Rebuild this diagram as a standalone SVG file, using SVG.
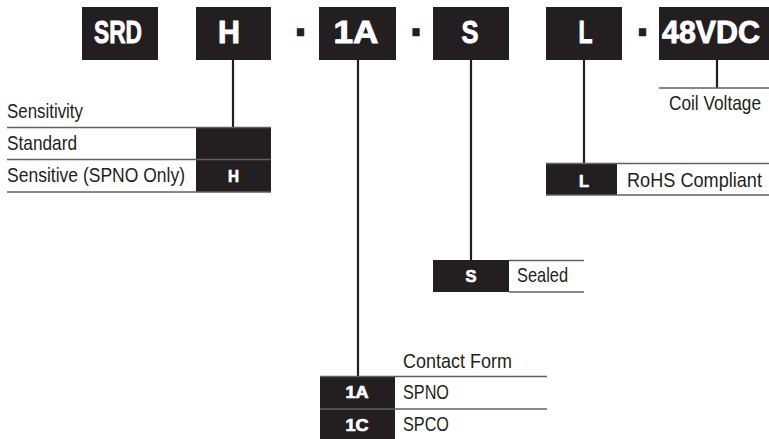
<svg xmlns="http://www.w3.org/2000/svg" width="769" height="439" viewBox="0 0 769 439">
<style>
.blk{fill:#231f20}
.big{font-family:"Liberation Sans",Arial,sans-serif;font-weight:bold;font-size:31px;fill:#fff;stroke:#fff;stroke-width:0.9;text-anchor:middle}
.sm{font-family:"Liberation Sans",Arial,sans-serif;font-weight:bold;font-size:17px;fill:#fff;stroke:#fff;stroke-width:0.7;text-anchor:middle}
.lbl{font-family:"Liberation Sans",Arial,sans-serif;font-size:21px;fill:#231f20}
.dash{font-family:"Liberation Sans",Arial,sans-serif;font-weight:bold;font-size:30px;fill:#231f20;stroke:#231f20;stroke-width:4.5;text-anchor:middle}
.conn{stroke:#231f20;stroke-width:2.2;fill:none}
.rule{stroke:#606060;stroke-width:1.6;fill:none}
</style>
<rect width="769" height="439" fill="#fff"/>
<g id="code">
  <g id="box-SRD"><rect class="blk" x="82" y="7" width="76" height="53"/><text class="big" x="118" y="43" textLength="48" lengthAdjust="spacingAndGlyphs">SRD</text></g>
  <g id="box-H"><rect class="blk" x="196" y="7" width="75" height="53"/><text class="big" x="229" y="43" textLength="22" lengthAdjust="spacingAndGlyphs">H</text></g>
  <g id="dash1"><text class="dash" x="300.5" y="40" textLength="6" lengthAdjust="spacingAndGlyphs">-</text></g>
  <g id="box-1A"><rect class="blk" x="319" y="7" width="77" height="53"/><text class="big" x="356" y="43" textLength="45" lengthAdjust="spacingAndGlyphs">1A</text></g>
  <g id="dash2"><text class="dash" x="416" y="40" textLength="6" lengthAdjust="spacingAndGlyphs">-</text></g>
  <g id="box-S"><rect class="blk" x="433" y="7" width="76" height="53"/><text class="big" x="470" y="43" textLength="17" lengthAdjust="spacingAndGlyphs">S</text></g>
  <g id="box-L"><rect class="blk" x="546" y="7" width="76" height="53"/><text class="big" x="585.5" y="43" textLength="14" lengthAdjust="spacingAndGlyphs">L</text></g>
  <g id="dash3"><text class="dash" x="642.5" y="40" textLength="6" lengthAdjust="spacingAndGlyphs">-</text></g>
  <g id="box-48VDC"><rect class="blk" x="659" y="7" width="110" height="53"/><text class="big" x="711" y="43" textLength="98" lengthAdjust="spacingAndGlyphs">48VDC</text></g>
</g>
<g id="connectors">
  <line class="conn" x1="233" y1="60" x2="233" y2="127"/>
  <line class="conn" x1="358" y1="60" x2="358" y2="376"/>
  <line class="conn" x1="471" y1="60" x2="471" y2="260"/>
  <line class="conn" x1="584" y1="60" x2="584" y2="163"/>
  <line class="conn" x1="717" y1="60" x2="717" y2="88"/>
</g>
<g id="sensitivity">
  <rect class="blk" x="196" y="127" width="75" height="65"/>
  <line class="rule" x1="7" y1="127.5" x2="271" y2="127.5"/>
  <line class="rule" x1="7" y1="159.5" x2="271" y2="159.5"/>
  <line class="rule" x1="7" y1="192" x2="271" y2="192"/>
  <text class="lbl" x="7" y="118" textLength="76" lengthAdjust="spacingAndGlyphs">Sensitivity</text>
  <text class="lbl" x="7" y="150" textLength="70" lengthAdjust="spacingAndGlyphs">Standard</text>
  <text class="lbl" x="7" y="182" textLength="178" lengthAdjust="spacingAndGlyphs">Sensitive (SPNO Only)</text>
  <text class="sm" x="233.5" y="182" textLength="11" lengthAdjust="spacingAndGlyphs">H</text>
</g>
<g id="coil">
  <line class="rule" x1="659" y1="88" x2="769" y2="88"/>
  <text class="lbl" x="669" y="110" textLength="92" lengthAdjust="spacingAndGlyphs">Coil Voltage</text>
</g>
<g id="rohs">
  <rect class="blk" x="546" y="163" width="71" height="32"/>
  <line class="rule" x1="546" y1="163.5" x2="769" y2="163.5"/>
  <line class="rule" x1="546" y1="195" x2="769" y2="195"/>
  <text class="sm" x="584" y="187" textLength="10" lengthAdjust="spacingAndGlyphs">L</text>
  <text class="lbl" x="627" y="187" textLength="135" lengthAdjust="spacingAndGlyphs">RoHS Compliant</text>
</g>
<g id="sealed">
  <rect class="blk" x="433" y="260" width="76" height="32"/>
  <line class="rule" x1="509" y1="260.5" x2="584" y2="260.5"/>
  <line class="rule" x1="509" y1="292" x2="584" y2="292"/>
  <text class="sm" x="471" y="282" textLength="11" lengthAdjust="spacingAndGlyphs">S</text>
  <text class="lbl" x="517" y="282" textLength="51" lengthAdjust="spacingAndGlyphs">Sealed</text>
</g>
<g id="contact">
  <rect class="blk" x="320" y="376" width="75" height="63"/>
  <line class="rule" x1="320" y1="376.5" x2="547" y2="376.5"/>
  <line class="rule" x1="320" y1="409" x2="547" y2="409"/>
  <text class="lbl" x="403" y="368" textLength="109" lengthAdjust="spacingAndGlyphs">Contact Form</text>
  <text class="sm" x="357" y="398" textLength="23" lengthAdjust="spacingAndGlyphs">1A</text>
  <text class="lbl" x="403" y="399" textLength="46" lengthAdjust="spacingAndGlyphs">SPNO</text>
  <text class="sm" x="357" y="431" textLength="23" lengthAdjust="spacingAndGlyphs">1C</text>
  <text class="lbl" x="403" y="431" textLength="46" lengthAdjust="spacingAndGlyphs">SPCO</text>
</g>
</svg>
